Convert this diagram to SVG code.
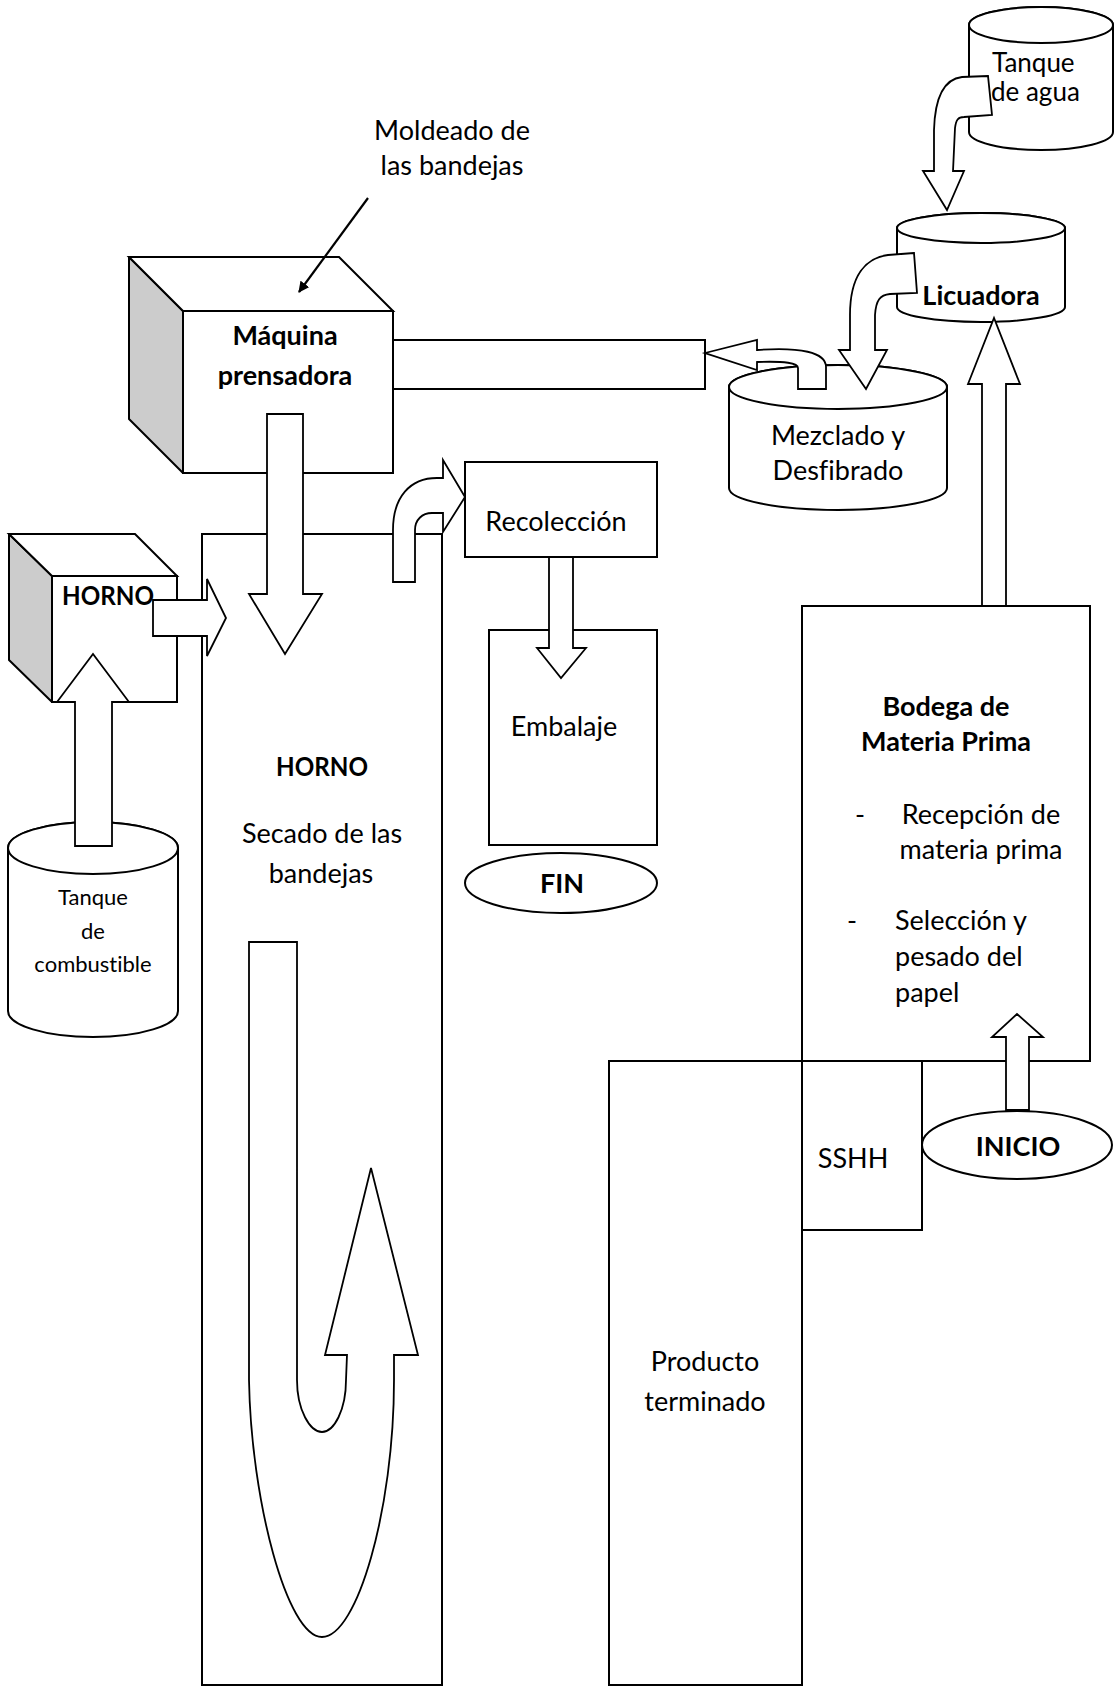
<svg xmlns="http://www.w3.org/2000/svg" width="1120" height="1686" viewBox="0 0 1120 1686">
  <style>
    .s { fill: #fff; stroke: #000; stroke-width: 2; }
    .side { fill: #cccccc; stroke: #000; stroke-width: 2; stroke-linejoin: round; }
    .arr { fill: #fff; stroke: #000; stroke-width: 1.8; stroke-linejoin: miter; }
    .ln { fill: none; stroke: #000; stroke-width: 2.2; }
    text { font-family: Lato, "Liberation Sans", sans-serif; font-size: 27px; fill: #000; font-variant-ligatures: none; }
    .b { font-weight: bold; }
    .sm { font-size: 22px; }
    .md { font-size: 26px; }
    .c { text-anchor: middle; }
  </style>
  <defs>
    <marker id="head" markerWidth="11" markerHeight="11" refX="10" refY="5.5" orient="auto" markerUnits="userSpaceOnUse" viewBox="0 0 11 11">
      <path d="M0,0 L11,5.5 L0,11 Z" fill="#000"/>
    </marker>
  </defs>
  <rect width="1120" height="1686" fill="#fff"/>

  <!-- water tank -->
  <g id="tanque-agua">
    <path class="s" d="M969,25 V132 A72,18 0 0 0 1113,132 V25 A72,18 0 0 0 969,25 Z"/>
    <ellipse class="s" cx="1041" cy="25" rx="72" ry="18"/>
  </g>

  <!-- blender -->
  <g id="licuadora">
    <path class="s" d="M897,228 V307 A84,15 0 0 0 1065,307 V228 A84,15 0 0 0 897,228 Z"/>
    <ellipse class="s" cx="981" cy="228" rx="84" ry="15"/>
  </g>

  <!-- mixing tank -->
  <g id="mezclado">
    <path class="s" d="M729,387 V488 A109,22 0 0 0 947,488 V387 A109,22 0 0 0 729,387 Z"/>
    <ellipse class="s" cx="838" cy="387" rx="109" ry="22"/>
  </g>

  <!-- press with outlet pipe -->
  <g id="maquina">
    <rect class="s" x="393" y="340" width="312" height="49"/>
    <polygon class="side" points="129,257 183,311 183,473 129,419"/>
    <polygon class="s" points="129,257 339,257 393,311 183,311"/>
    <rect class="s" x="183" y="311" width="210" height="162"/>
  </g>

  <!-- drying oven -->
  <g id="horno">
    <rect class="s" x="202" y="534" width="240" height="1151"/>
  </g>

  <!-- burner -->
  <g id="horno-quemador">
    <polygon class="side" points="9,534 52,576 52,702 9,660"/>
    <polygon class="s" points="9,534 135,534 177,576 52,576"/>
    <rect class="s" x="52" y="576" width="125" height="126"/>
  </g>

  <!-- fuel tank -->
  <g id="tanque-combustible">
    <path class="s" d="M8,848 V1011 A85,26 0 0 0 178,1011 V848 A85,26 0 0 0 8,848 Z"/>
    <ellipse class="s" cx="93" cy="848" rx="85" ry="26"/>
  </g>

  <g id="recoleccion">
    <rect class="s" x="465" y="462" width="192" height="95"/>
  </g>

  <g id="embalaje">
    <rect class="s" x="489" y="630" width="168" height="215"/>
  </g>

  <g id="fin">
    <ellipse class="s" cx="561" cy="883" rx="96" ry="30"/>
  </g>

  <g id="bodega">
    <rect class="s" x="802" y="606" width="288" height="455"/>
  </g>

  <g id="sshh">
    <rect class="s" x="802" y="1061" width="120" height="169"/>
  </g>

  <g id="producto">
    <rect class="s" x="609" y="1061" width="193" height="624"/>
  </g>

  <g id="inicio">
    <ellipse class="s" cx="1017" cy="1145" rx="95" ry="34"/>
  </g>

  <!-- flow arrows -->
  <g id="connectors">
    <path class="arr" d="M988,76 L962,77 C945,79 935,95 934,130 L934,171 L923,171 L947,210 L964,171 L953,171 L955,128 C956,120 958,117 964,117 L992,115 Z"/>
    <path class="arr" d="M914,253 L888,255 C866,258 850,275 850,315 L850,350 L839,350 L866,389 L887,350 L875,350 L875,315 C876,300 880,295 890,294 L917,293 Z"/>
    <path class="arr" d="M705,353 L757,340 L757,350 C800,347 826,352 826,367 L826,389 L798,389 L798,368 C798,363 785,361 757,362 L757,370 Z"/>
    <path class="arr" d="M982,606 L982,384 L968,384 L994,318 L1020,384 L1006,384 L1006,606 Z"/>
    <path class="arr" d="M267,414 L303,414 L303,594 L322,594 L285,654 L249,594 L267,594 Z"/>
    <path class="arr" d="M153,600 L207,600 L207,579 L226,618 L207,656 L207,636 L153,636 Z"/>
    <path class="arr" d="M75,846 L75,702 L57,702 L93,654 L129,702 L112,702 L112,846 Z"/>
    <path class="arr" d="M393,582 L393,530 C393,497 410,478 437,478 L443,478 L443,460 L465,497 L443,532 L443,513 L432,513 C422,513 415,520 415,530 L415,582 Z"/>
    <path class="arr" d="M549,557 L549,648 L537,648 L561,678 L586,648 L573,648 L573,557 Z"/>
    <path class="arr" d="M249,942 L297,942 L297,1380 C297,1410 310,1432 322,1432 C334,1432 346,1410 346,1380 L347,1355 L325,1355 L371,1168 L418,1355 L394,1355 L394,1380 C394,1510 357,1637 322,1637 C287,1637 251,1500 249,1380 Z"/>
    <path class="arr" d="M1006,1110 L1006,1037 L992,1037 L1017,1014 L1043,1037 L1029,1037 L1029,1110 Z"/>
    <line class="ln" x1="368" y1="198" x2="299" y2="292" marker-end="url(#head)"/>
  </g>

  <!-- labels -->
  <g id="labels">
    <text class="md" x="992" y="72">Tanque</text>
    <text class="md" x="991" y="101">de agua</text>
    <text class="c" x="452" y="140">Moldeado de</text>
    <text class="c" x="452" y="175">las bandejas</text>
    <text class="b c" x="981" y="305">Licuadora</text>
    <text class="b c" x="285" y="345">Máquina</text>
    <text class="b c" x="285" y="385">prensadora</text>
    <text class="c" x="838" y="445">Mezclado y</text>
    <text class="c" x="838" y="480">Desfibrado</text>
    <text class="c" x="556" y="531">Recolección</text>
    <text class="b c" x="108" y="605" textLength="92" lengthAdjust="spacingAndGlyphs">HORNO</text>
    <text class="c" x="564" y="736">Embalaje</text>
    <text class="b c" x="322" y="776" textLength="92" lengthAdjust="spacingAndGlyphs">HORNO</text>
    <text class="c" x="322" y="843">Secado de las</text>
    <text class="c" x="321" y="883">bandejas</text>
    <text class="b c" x="562" y="893">FIN</text>
    <text class="sm c" x="93" y="905">Tanque</text>
    <text class="sm c" x="93" y="939">de</text>
    <text class="sm c" x="93" y="972">combustible</text>
    <text class="b c" x="946" y="716">Bodega de</text>
    <text class="b c" x="946" y="751">Materia Prima</text>
    <text x="855" y="824">-</text>
    <text class="c" x="981" y="824">Recepción de</text>
    <text class="c" x="981" y="859">materia prima</text>
    <text x="847" y="930">-</text>
    <text x="895" y="930">Selección y</text>
    <text x="895" y="966">pesado del</text>
    <text x="895" y="1002">papel</text>
    <text class="b c" x="1018" y="1156">INICIO</text>
    <text class="c" x="853" y="1168">SSHH</text>
    <text class="c" x="705" y="1371">Producto</text>
    <text class="c" x="705" y="1411">terminado</text>
  </g>
</svg>
